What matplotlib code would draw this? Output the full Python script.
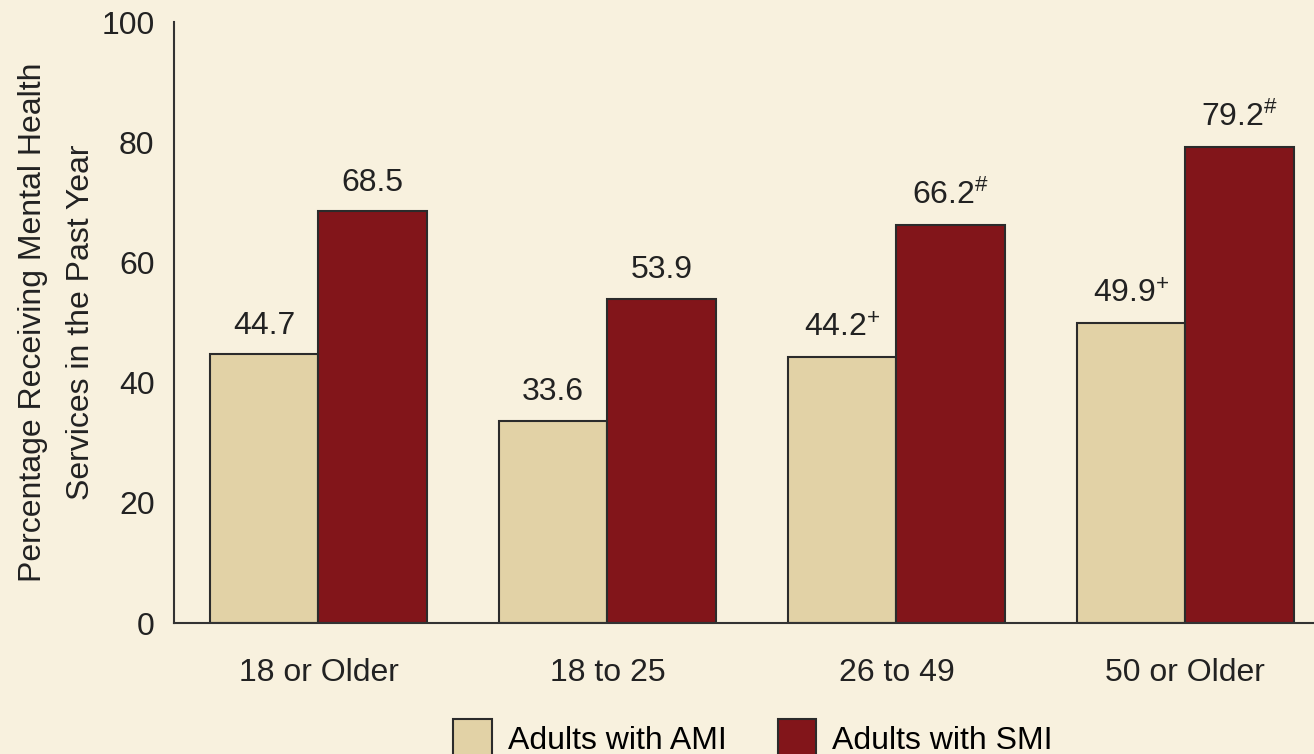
import numpy as np
import matplotlib
matplotlib.use("Agg")
import matplotlib.pyplot as plt
from matplotlib.patches import Patch

plt.rcParams['font.family'] = ['Liberation Sans', 'DejaVu Sans']
plt.rcParams['mathtext.fontset'] = 'custom'
plt.rcParams['mathtext.rm'] = 'Liberation Sans'
plt.rcParams['mathtext.it'] = 'Liberation Sans'

groups = ['18 or Older', '18 to 25', '26 to 49', '50 or Older']
ami = [44.7, 33.6, 44.2, 49.9]
smi = [68.5, 53.9, 66.2, 79.2]
ami_labels = ['44.7', '33.6', '44.2$^{+}$', '49.9$^{+}$']
smi_labels = ['68.5', '53.9', '66.2$^{\\#}$', '79.2$^{\\#}$']

bg = '#F8F1DE'
c_ami = '#E2D2A6'
c_smi = '#82151A'
edge = '#2b2b2b'
txt = '#222222'
fs = 23

fig = plt.figure(figsize=(13.14, 7.54), dpi=100, facecolor=bg)
ax = fig.add_axes([0.1324, 0.1737, 0.8676, 0.7971], facecolor=bg)

x = np.arange(len(groups))
w = 0.375
ax.bar(x - w / 2, ami, w, color=c_ami, edgecolor=edge, linewidth=1.5)
ax.bar(x + w / 2, smi, w, color=c_smi, edgecolor=edge, linewidth=1.5)

for i in range(len(groups)):
    ax.text(x[i] - w / 2, ami[i] + 2.3, ami_labels[i], ha='center', va='bottom',
            fontsize=fs, color=txt)
    ax.text(x[i] + w / 2, smi[i] + 2.3, smi_labels[i], ha='center', va='bottom',
            fontsize=fs, color=txt)

ax.set_xlim(-0.5, 3.445)
ax.set_ylim(0, 100)
ax.set_yticks([0, 20, 40, 60, 80, 100])
ax.set_xticks(x)
ax.set_xticklabels(groups)
ax.tick_params(axis='both', length=0, labelsize=fs, colors=txt, pad=14)
ax.tick_params(axis='x', pad=25)
for s in ['top', 'right']:
    ax.spines[s].set_visible(False)
for s in ['left', 'bottom']:
    ax.spines[s].set_color('#333333')
    ax.spines[s].set_linewidth(1.5)

ax.set_ylabel('Percentage Receiving Mental Health\nServices in the Past Year',
              fontsize=fs, color=txt, labelpad=4, linespacing=1.75)

handles = [Patch(facecolor=c_ami, edgecolor=edge, linewidth=1.5, label='Adults with AMI'),
           Patch(facecolor=c_smi, edgecolor=edge, linewidth=1.5, label='Adults with SMI')]
fig.legend(handles=handles, loc='lower center', bbox_to_anchor=(0.573, -0.043), ncol=2,
           frameon=False, fontsize=fs, handlelength=1.2, handleheight=1.5,
           columnspacing=1.6, handletextpad=0.5)

fig.savefig('out.png', dpi=100, facecolor=bg)
